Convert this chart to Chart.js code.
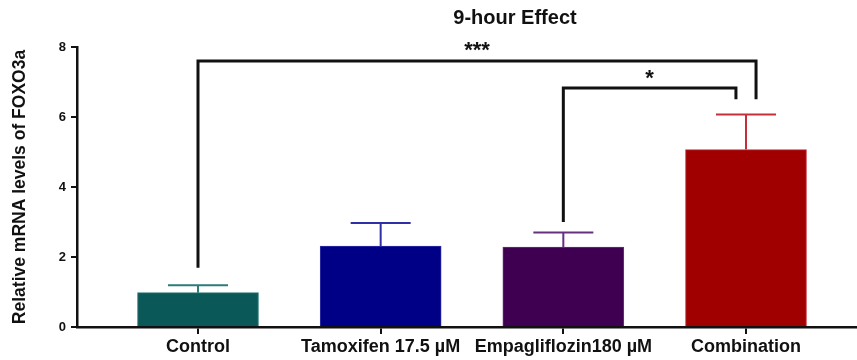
<!DOCTYPE html>
<html>
<head>
<meta charset="utf-8">
<script src="https://cdn.jsdelivr.net/npm/chart.js@4.4.1/dist/chart.umd.min.js"></script>
<style>
  html, body { margin: 0; padding: 0; background: #fff; }
  #wrap { width: 857px; height: 360px; }
</style>
</head>
<body>
<div id="wrap"><canvas id="chart" width="857" height="360"></canvas></div>
<script>
const categories = ['Control', 'Tamoxifen 17.5 µM', 'Empagliflozin180 µM', 'Combination'];
const means = [0.98, 2.31, 2.28, 5.07];
const sems = [0.21, 0.66, 0.42, 1.0];
const yTicks = [0, 2, 4, 6, 8];
const barColors = ['#0b5858', '#000086', '#3f0052', '#a00000'];
const errColors = ['#2d7b7b', '#2f2fa6', '#66307f', '#c3303a'];
const comparisons = [
    { from: 0, to: 3, label: '***' },
    { from: 2, to: 3, label: '*' }
];

const font = '"Liberation Sans", Arial, sans-serif';

// bracket geometry (data units) for the comparisons above
const bracketStyle = [
    { level: 7.6, leftEnd: 1.69, rightEnd: 6.51, rightShift: 0.055, labelY: 8.02 },
    { level: 6.83, leftEnd: 3.0, rightEnd: 6.51, rightShift: -0.055, labelY: 7.23 }
];

const extras = {
    id: 'extras',
    afterDatasetsDraw(chart) {
        const c = chart.ctx;
        const x = chart.scales.x;
        const y = chart.scales.y;

        // error bars (upper only)
        means.forEach((m, i) => {
            const px = x.getPixelForValue(i);
            const top = y.getPixelForValue(m);
            const cap = y.getPixelForValue(m + sems[i]);
            c.save();
            c.strokeStyle = errColors[i];
            c.lineWidth = 2;
            c.beginPath();
            c.moveTo(px, top);
            c.lineTo(px, cap);
            c.moveTo(px - 30, cap);
            c.lineTo(px + 30, cap);
            c.stroke();
            c.restore();
        });

        // significance brackets
        comparisons.forEach((cmp, k) => {
            const s = bracketStyle[k];
            const x1 = x.getPixelForValue(cmp.from);
            const x2 = x.getPixelForValue(cmp.to + s.rightShift);
            const yl = y.getPixelForValue(s.level);
            c.save();
            c.strokeStyle = '#111';
            c.lineWidth = 3;
            c.lineJoin = 'miter';
            c.beginPath();
            c.moveTo(x1, y.getPixelForValue(s.leftEnd));
            c.lineTo(x1, yl);
            c.lineTo(x2, yl);
            c.lineTo(x2, y.getPixelForValue(s.rightEnd));
            c.stroke();
            c.fillStyle = '#111';
            c.font = 'bold 22px ' + font;
            c.textAlign = 'center';
            c.textBaseline = 'middle';
            c.fillText(cmp.label, (x1 + x2) / 2, y.getPixelForValue(s.labelY) + 5);
            c.restore();
        });

        // title
        c.save();
        c.fillStyle = '#111';
        c.font = 'bold 20px ' + font;
        c.textAlign = 'center';
        c.textBaseline = 'middle';
        c.fillText('9-hour Effect', 515, 18);
        c.restore();
    }
};

new Chart(document.getElementById('chart').getContext('2d'), {
    type: 'bar',
    data: {
        datasets: [{
            data: means.map((v, i) => ({ x: i, y: v })),
            backgroundColor: barColors,
            borderColor: errColors,
            borderWidth: 1,
            barThickness: 121
        }]
    },
    options: {
        responsive: false,
        animation: false,
        layout: { padding: { top: 47, right: 0, left: 0, bottom: 0 } },
        plugins: {
            legend: { display: false },
            tooltip: { enabled: false }
        },
        scales: {
            x: {
                type: 'linear',
                offset: false,
                min: -0.6624,
                max: 3.6077,
                afterBuildTicks: s => { s.ticks = categories.map((_, i) => ({ value: i })); },
                afterFit: s => { s.height = 33; },
                grid: { display: true, offset: false, drawOnChartArea: false, drawTicks: true, tickLength: 7, color: '#111', lineWidth: 2 },
                border: { display: true, color: '#111', width: 2.5 },
                ticks: {
                    autoSkip: false,
                    maxRotation: 0,
                    padding: 2,
                    color: '#111',
                    font: { family: font, size: 18, weight: 'bold' },
                    callback: v => categories[v]
                }
            },
            y: {
                min: 0,
                max: 8,
                afterBuildTicks: s => { s.ticks = yTicks.map(v => ({ value: v })); },
                afterFit: s => { s.width = 77; },
                grid: { display: true, drawOnChartArea: false, drawTicks: true, tickLength: 6, color: '#111', lineWidth: 2 },
                border: { display: true, color: '#111', width: 2.5 },
                ticks: {
                    padding: 5,
                    color: '#111',
                    font: { family: font, size: 13, weight: 'bold' }
                },
                title: {
                    display: true,
                    text: 'Relative mRNA levels of FOXO3a',
                    color: '#111',
                    padding: { top: 10, bottom: 10 },
                    font: { family: font, size: 17.5, weight: 'bold' }
                }
            }
        }
    },
    plugins: [extras]
});
</script>
</body>
</html>
